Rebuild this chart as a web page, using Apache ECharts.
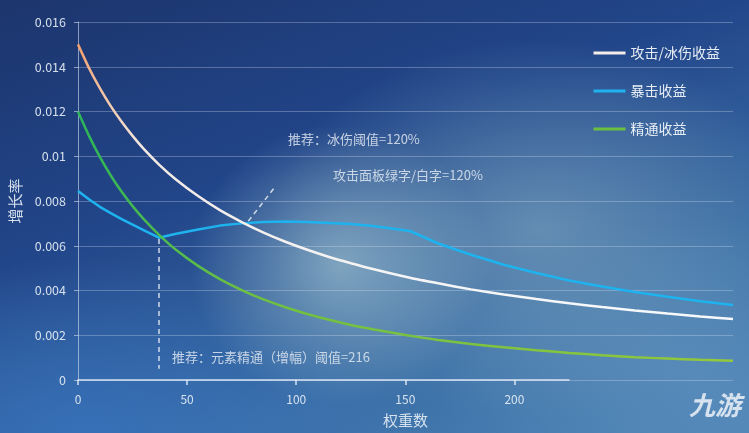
<!DOCTYPE html>
<html>
<head>
<meta charset="utf-8">
<script src="https://cdn.jsdelivr.net/npm/echarts@6/dist/echarts.min.js"></script>
<style>
  html, body { margin: 0; padding: 0; }
  body {
    width: 749px; height: 433px; overflow: hidden;
    background:
      radial-gradient(ellipse 150px 140px at 340px 265px, rgba(155,190,205,0.7), rgba(155,190,205,0) 100%),
      radial-gradient(ellipse 270px 190px at 540px 230px, rgba(120,160,188,0.7), rgba(120,160,188,0) 100%),
      radial-gradient(ellipse 320px 170px at 80px 430px, rgba(55,115,190,0.75), rgba(55,115,190,0) 100%),
      radial-gradient(ellipse 260px 160px at 700px 380px, rgba(95,145,190,0.7), rgba(95,145,190,0) 100%),
      linear-gradient(160deg, #1c356d 0%, #22468a 38%, #3a6ea6 72%, #4a82b5 100%);
  }
  #main { width: 749px; height: 433px; }
</style>
</head>
<body>
<div id="main"></div>
<script>
// 权重数
var xs = [0, 5, 10, 15, 20, 25, 30, 37, 45, 55, 65, 75, 85, 95, 105, 115, 125, 135, 152,
  165, 180, 195, 210, 225, 240, 255, 270, 285, 300]
// 攻击/冰伤收益
var atkGain = [0.0150, 0.01395, 0.01304, 0.01224, 0.01154, 0.01091, 0.01034, 0.00964, 0.00895,
  0.00822, 0.00759, 0.00706, 0.00659, 0.00618, 0.00582, 0.00550, 0.00522, 0.00496, 0.00457,
  0.00432, 0.00405, 0.00382, 0.00362, 0.00343, 0.00326, 0.00311, 0.00297, 0.00284, 0.00273]
// 暴击收益
var critGain = [0.00845, 0.00808, 0.00774, 0.00746, 0.00719, 0.00694, 0.00670, 0.00636, 0.00654,
  0.00673, 0.00690, 0.00700, 0.00706, 0.00708, 0.00706, 0.00702, 0.00697, 0.00688, 0.00666,
  0.00610, 0.00560, 0.00515, 0.00478, 0.00445, 0.00418, 0.00393, 0.00372, 0.00352, 0.00335]
// 精通收益
var emGain = [0.01200, 0.01092, 0.00997, 0.00914, 0.00841, 0.00777, 0.00720, 0.00650, 0.00581,
  0.00510, 0.00451, 0.00402, 0.00360, 0.00325, 0.00295, 0.00269, 0.00246, 0.00227, 0.00198,
  0.00179, 0.00161, 0.00146, 0.00133, 0.00121, 0.00111, 0.00102, 0.00096, 0.00090, 0.00086]

var seriesNames = ['攻击/冰伤收益', '暴击收益', '精通收益']
var xTickLabels = [0, 50, 100, 150, 200]
// 虚线标注 [起点, 终点]
var emMark = [[37, 0.0063], [37, 0.0005]]
var atkMark = [[78, 0.0071], [90, 0.0086]]
var notes = ['推荐：冰伤阈值=120%', '攻击面板绿字/白字=120%', '推荐：元素精通（增幅）阈值=216']

function pairs(vals) {
  return xs.map(function (x, i) { return [x, vals[i]] })
}

var txtColor = 'rgba(228,235,244,0.92)'
var noteColor = 'rgba(222,230,240,0.85)'
var fontCN = '"Noto Sans CJK SC", "Noto Sans", sans-serif'

var myChart = echarts.init(document.getElementById('main'))
var option = {
  backgroundColor: 'transparent',
  textStyle: { fontFamily: fontCN },
  grid: [
    { left: 78, right: 16, top: 22, bottom: 53, outerBoundsMode: 'none' },
    { left: 78, right: 180, top: 22, bottom: 53, outerBoundsMode: 'none' },
  ],
  legend: {
    orient: 'vertical',
    right: 24,
    top: 40,
    itemWidth: 32,
    itemHeight: 3,
    itemGap: 22,
    icon: 'rect',
    textStyle: { color: 'rgba(240,244,250,0.95)', fontSize: 14, fontFamily: fontCN, lineHeight: 16 },
    data: [
      { name: seriesNames[0], itemStyle: { color: '#f3ece8' } },
      { name: seriesNames[1], itemStyle: { color: '#1eb3ef' } },
      { name: seriesNames[2], itemStyle: { color: '#6cc040' } },
    ],
  },
  xAxis: [
    {
      gridIndex: 0,
      type: 'value',
      min: 0,
      max: 300,
      name: '权重数',
      nameLocation: 'middle',
      nameGap: 33,
      nameTextStyle: { color: txtColor, fontSize: 15, fontFamily: fontCN },
      axisLine: { show: false },
      axisTick: { show: false },
      axisLabel: { show: false },
      splitLine: { show: false },
    },
    {
      gridIndex: 1,
      type: 'value',
      min: 0,
      max: 225,
      axisLine: { show: true, onZero: false, lineStyle: { color: 'rgba(232,240,250,0.9)', width: 1.5 } },
      axisTick: { show: true, length: 5, customValues: xTickLabels, lineStyle: { color: 'rgba(232,240,250,0.9)', width: 1.5 } },
      axisLabel: { color: txtColor, fontSize: 12, margin: 13, customValues: xTickLabels },
      splitLine: { show: false },
    },
  ],
  yAxis: [
    {
      gridIndex: 0,
      type: 'value',
      min: 0,
      max: 0.016,
      interval: 0.002,
      name: '增长率',
      nameLocation: 'middle',
      nameGap: 55,
      nameTextStyle: { color: txtColor, fontSize: 15, fontFamily: fontCN },
      axisLine: { show: true, lineStyle: { color: 'rgba(215,225,240,0.6)', width: 1 } },
      axisTick: { show: true, length: 4, lineStyle: { color: 'rgba(215,225,240,0.6)' } },
      axisLabel: { color: txtColor, fontSize: 12.5, margin: 12 },
      splitLine: { show: true, lineStyle: { color: 'rgba(220,230,245,0.3)', width: 1 } },
    },
    {
      gridIndex: 1,
      type: 'value',
      min: 0,
      max: 0.016,
      show: false,
    },
  ],
  series: [
    {
      name: seriesNames[0],
      type: 'line',
      showSymbol: false,
      smooth: 0.2,
      z: 4,
      data: pairs(atkGain),
      itemStyle: { color: '#f3ece8' },
      lineStyle: {
        width: 2.5,
        color: new echarts.graphic.LinearGradient(0, 0, 0, 1, [
          { offset: 0, color: '#f09c68' },
          { offset: 0.12, color: '#f2b590' },
          { offset: 0.38, color: '#f2e8e2' },
          { offset: 1, color: '#f6f9fb' },
        ]),
      },
      markLine: {
        silent: true,
        symbol: 'none',
        label: { show: false },
        lineStyle: { color: 'rgba(235,240,248,0.85)', type: [5, 4], width: 1.5 },
        data: [[{ coord: atkMark[0] }, { coord: atkMark[1] }]],
      },
    },
    {
      name: seriesNames[1],
      type: 'line',
      showSymbol: false,
      smooth: false,
      z: 3,
      data: pairs(critGain),
      itemStyle: { color: '#1eb3ef' },
      lineStyle: { width: 2.5, color: '#1eb3ef' },
    },
    {
      name: seriesNames[2],
      type: 'line',
      showSymbol: false,
      smooth: 0.2,
      z: 3,
      data: pairs(emGain),
      itemStyle: { color: '#6cc040' },
      lineStyle: {
        width: 2.5,
        color: new echarts.graphic.LinearGradient(0, 0, 1, 0, [
          { offset: 0, color: '#2bb55a' },
          { offset: 0.25, color: '#6cbf42' },
          { offset: 1, color: '#93c83c' },
        ]),
      },
      markLine: {
        silent: true,
        symbol: 'none',
        label: { show: false },
        lineStyle: { color: 'rgba(235,240,248,0.85)', type: [5, 4], width: 1.5 },
        data: [[{ coord: emMark[0] }, { coord: emMark[1] }]],
      },
    },
  ],
  graphic: [
    { type: 'text', left: 288, top: 133, style: { text: notes[0], fill: noteColor, font: '13px ' + fontCN } },
    { type: 'text', left: 333, top: 169, style: { text: notes[1], fill: noteColor, font: '13px ' + fontCN } },
    { type: 'text', left: 172, top: 351, style: { text: notes[2], fill: noteColor, font: '13px ' + fontCN } },
    { type: 'text', right: 8, top: 392, style: { text: '九游', fill: 'rgba(238,242,248,0.85)', font: 'italic bold 26px ' + fontCN } },
  ],
}
myChart.setOption(option)
</script>
</body>
</html>
